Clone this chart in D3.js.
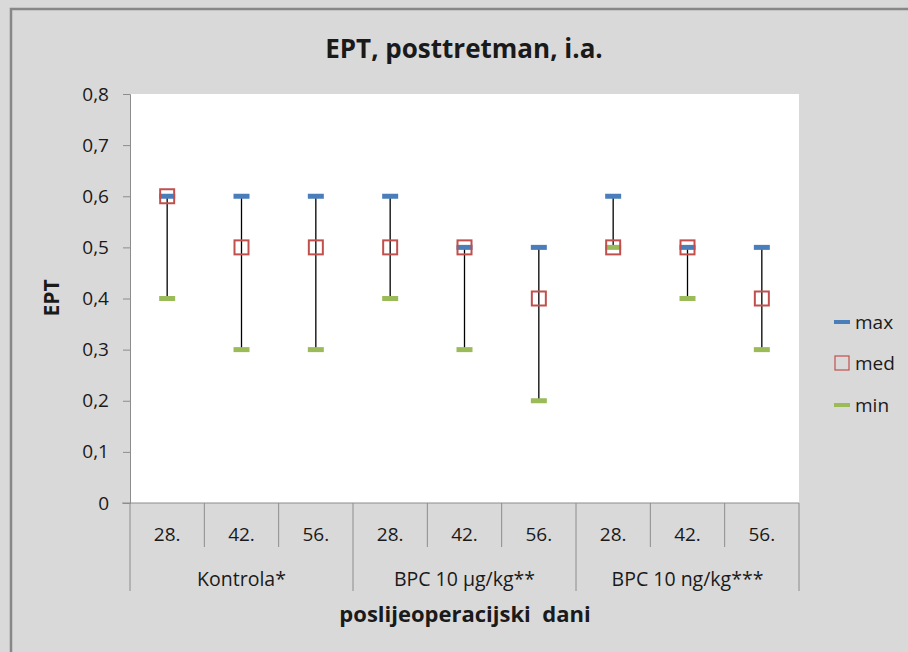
<!DOCTYPE html>
<html>
<head>
<meta charset="utf-8">
<script src="https://cdn.jsdelivr.net/npm/d3@7"></script>
<style>
  html, body { margin: 0; padding: 0; background: #d9d9d9; }
  svg { display: block; }
  text { font-family: "Open Sans", Lato, sans-serif; fill: #1a1a1a; white-space: pre; }
</style>
</head>
<body>
<svg id="chart" width="908" height="652"></svg>
<script>
// Days after surgery, grouped by treatment
const days = ["28.", "42.", "56.", "28.", "42.", "56.", "28.", "42.", "56."];
const groups = ["Kontrola*", "BPC 10 µg/kg**", "BPC 10 ng/kg***"];
const maxValues = [0.6, 0.6, 0.6, 0.6, 0.5, 0.5, 0.6, 0.5, 0.5];
const medValues = [0.6, 0.5, 0.5, 0.5, 0.5, 0.4, 0.5, 0.5, 0.4];
const minValues = [0.4, 0.3, 0.3, 0.4, 0.3, 0.2, 0.5, 0.4, 0.3];
const yTicks = [0, 0.1, 0.2, 0.3, 0.4, 0.5, 0.6, 0.7, 0.8];

const colors = { max: "#4a7ebb", med: "#c0504d", min: "#9bbb59", axis: "#8c8c8c" };
const FONT = "'Open Sans', Lato, sans-serif";

const svg = d3.select("#chart");
const plot = { left: 130, right: 799, top: 94, bottom: 503 };

// Outer frame
svg.append("rect").attr("x", 0).attr("y", 0).attr("width", 908).attr("height", 652).attr("fill", "#d9d9d9");
svg.append("path").attr("d", "M11,652 L11,9 L908,9").attr("fill", "none")
  .attr("stroke", "#878787").attr("stroke-width", 2.5);

// Plot area
svg.append("rect").attr("x", plot.left).attr("y", plot.top)
  .attr("width", plot.right - plot.left).attr("height", plot.bottom - plot.top).attr("fill", "#ffffff");

const idx = d3.range(days.length);
const x = d3.scaleBand().domain(idx).range([plot.left, plot.right]).padding(0);
const y = d3.scaleLinear().domain([0, 0.8]).range([plot.bottom, plot.top]);
const fmt = d => d === 0 ? "0" : d3.format(".1f")(d).replace(".", ",");

// Y axis
const yAxis = svg.append("g").attr("transform", `translate(${plot.left},0)`)
  .call(d3.axisLeft(y).tickValues(yTicks).tickFormat(fmt).tickSize(7).tickPadding(14));
yAxis.select(".domain").attr("stroke", colors.axis);
yAxis.selectAll(".tick line").attr("stroke", colors.axis);
yAxis.selectAll(".tick text").attr("font-size", 19).attr("fill", "#1a1a1a")
  .attr("font-family", FONT);

// X axis baseline and category separators
svg.append("line").attr("x1", plot.left - 8).attr("x2", plot.right)
  .attr("y1", plot.bottom).attr("y2", plot.bottom).attr("stroke", colors.axis);
const bounds = idx.map(i => x(i)).concat([plot.right]);
bounds.forEach((bx, i) => {
  const outer = i % 3 === 0;
  svg.append("line").attr("x1", bx).attr("x2", bx)
    .attr("y1", plot.bottom).attr("y2", outer ? 591 : 547)
    .attr("stroke", colors.axis).attr("stroke-width", 1);
});

// Day labels
svg.append("g").selectAll("text").data(idx).join("text")
  .attr("x", i => x(i) + x.bandwidth() / 2).attr("y", 541)
  .attr("text-anchor", "middle").attr("font-size", 19)
  .text(i => days[i]);

// Group labels
svg.append("g").selectAll("text").data(groups).join("text")
  .attr("x", (g, gi) => (x(gi * 3) + x(gi * 3 + 2) + x.bandwidth()) / 2).attr("y", 586)
  .attr("text-anchor", "middle").attr("font-size", 19.5)
  .text(g => g);

// High-low lines
const cx = i => x(i) + x.bandwidth() / 2;
svg.append("g").selectAll("line").data(idx).join("line")
  .attr("x1", cx).attr("x2", cx)
  .attr("y1", i => y(maxValues[i])).attr("y2", i => y(minValues[i]))
  .attr("stroke", "#000").attr("stroke-width", 1.3);

// Max markers
svg.append("g").selectAll("rect").data(idx).join("rect")
  .attr("x", i => cx(i) - 8).attr("y", i => y(maxValues[i]) - 2.5)
  .attr("width", 16).attr("height", 5).attr("fill", colors.max);

// Min markers
svg.append("g").selectAll("rect").data(idx).join("rect")
  .attr("x", i => cx(i) - 8).attr("y", i => y(minValues[i]) - 2.5)
  .attr("width", 16).attr("height", 5).attr("fill", colors.min);

// Median markers
svg.append("g").selectAll("rect").data(idx).join("rect")
  .attr("x", i => cx(i) - 7).attr("y", i => y(medValues[i]) - 7)
  .attr("width", 14).attr("height", 14)
  .attr("fill", "none").attr("stroke", colors.med).attr("stroke-width", 2);

// Titles
svg.append("text").attr("x", 464).attr("y", 58).attr("text-anchor", "middle")
  .attr("font-size", 26).attr("font-weight", "bold").text("EPT, posttretman, i.a.");
svg.append("text").attr("transform", "translate(59,298) rotate(-90)")
  .attr("text-anchor", "middle").attr("font-size", 21).attr("font-weight", "bold").text("EPT");
svg.append("text").attr("x", 465).attr("y", 622).attr("text-anchor", "middle")
  .attr("font-size", 22).attr("font-weight", "bold").text("poslijeoperacijski  dani");

// Legend
const legend = svg.append("g");
const items = [
  { key: "max", label: "max", y: 322 },
  { key: "med", label: "med", y: 363 },
  { key: "min", label: "min", y: 405 }
];
items.forEach(it => {
  if (it.key === "med") {
    legend.append("rect").attr("x", 835).attr("y", it.y - 7).attr("width", 14).attr("height", 14)
      .attr("fill", "none").attr("stroke", colors.med).attr("stroke-width", 1.2);
  } else {
    legend.append("rect").attr("x", 834).attr("y", it.y - 2).attr("width", 16).attr("height", 4)
      .attr("fill", colors[it.key]);
  }
  legend.append("text").attr("x", 855).attr("y", it.y + 7).attr("font-size", 19).text(it.label);
});
</script>
</body>
</html>
